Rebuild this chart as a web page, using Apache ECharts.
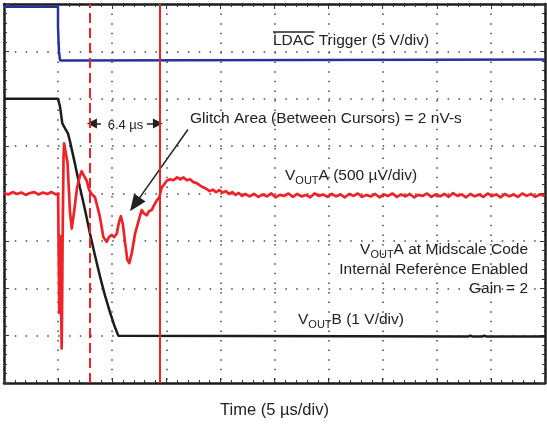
<!DOCTYPE html>
<html>
<head>
<meta charset="utf-8">
<script src="https://cdn.jsdelivr.net/npm/echarts@6/dist/echarts.min.js"></script>
<style>
  html, body { margin: 0; padding: 0; background: #fff; }
  #scope-chart { width: 547px; height: 424px; }
</style>
</head>
<body>
<div id="scope-chart"></div>
<script>
// time in us, amplitude in screen divisions (0 = bottom, 8 = top)
var ldacTrigger = [
  [0, 7.94], [4.99, 7.94], [4.99, 7.52], [5.08, 7.52], [5.08, 7.0], [5.18, 7.0],
  [5.18, 6.81], [6.28, 6.81], [6.28, 6.83], [50, 6.83]
];

var voutB = [
  [0, 6.0], [4.99, 6.0], [5.18, 5.83], [5.39, 5.48], [5.64, 5.375], [5.91, 5.27],
  [6.1, 5.1], [6.56, 4.625], [7.02, 4.125], [7.49, 3.65], [7.95, 3.15], [8.41, 2.69],
  [8.87, 2.25], [9.33, 1.85], [9.8, 1.49], [10.17, 1.23], [10.56, 1.0], [10.7, 0.98],
  [42.9, 0.98], [43.1, 1.0], [43.3, 0.98], [44.2, 0.98], [44.4, 1.0], [44.6, 0.98], [50, 0.98]
];

var voutA = [
  [0, 4.01], [0.4, 3.98], [0.8, 4.03], [1.2, 3.99], [1.6, 4.02], [2.0, 3.97], [2.4, 4.01],
  [2.8, 4.03], [3.2, 3.98], [3.6, 4.02], [4.0, 3.99], [4.4, 4.03], [4.8, 3.98], [5.0, 4.0],
  [5.08, 4.0], [5.11, 1.48], [5.15, 2.9], [5.2, 3.1], [5.27, 1.9], [5.33, 0.73], [5.38, 1.9],
  [5.41, 2.875], [5.5, 4.75], [5.55, 5.06], [5.64, 5.02], [5.73, 5.04], [5.87, 4.65],
  [6.1, 3.6], [6.26, 3.26], [6.47, 3.6], [6.75, 4.125], [7.02, 4.375], [7.18, 4.47],
  [7.39, 4.375], [7.64, 4.27], [7.86, 4.08], [8.1, 3.99], [8.41, 3.92], [8.69, 3.67],
  [8.87, 3.5], [9.18, 3.08], [9.49, 2.98], [9.7, 3.08], [9.95, 3.125], [10.17, 3.08],
  [10.42, 3.15], [10.63, 3.4], [10.81, 3.52], [11.0, 3.33], [11.18, 2.98], [11.4, 2.6],
  [11.58, 2.53], [11.8, 2.73], [12.11, 3.15], [12.41, 3.4], [12.73, 3.65], [12.94, 3.58],
  [13.19, 3.54], [13.4, 3.625], [13.65, 3.65], [13.86, 3.75], [14.11, 3.85], [14.35, 3.92],
  [14.57, 4.125], [14.79, 4.19], [15.04, 4.27], [15.34, 4.3], [15.65, 4.28], [15.99, 4.34],
  [16.3, 4.3], [16.6, 4.34], [16.9, 4.28], [17.2, 4.3], [17.5, 4.24], [17.8, 4.22],
  [18.1, 4.17], [18.4, 4.13], [18.7, 4.1], [19.0, 4.05], [19.3, 4.08], [19.6, 4.03],
  [19.9, 4.07], [20.2, 4.02], [20.5, 4.05], [20.8, 3.99], [21.1, 4.03], [21.4, 3.97],
  [21.7, 4.01], [22.0, 3.95], [22.3, 3.99], [22.7, 3.94],
  [23.1, 3.99], [23.5, 3.93], [23.9, 3.98], [24.3, 3.94], [24.7, 4.0], [25.1, 3.92],
  [25.5, 3.97], [25.9, 3.95], [26.3, 4.0], [26.7, 3.93], [27.1, 3.99], [27.5, 3.94],
  [27.9, 3.97], [28.3, 3.92], [28.7, 4.0], [29.1, 3.95], [29.5, 3.98], [29.9, 3.93],
  [30.3, 3.99], [30.7, 3.94], [31.1, 3.98], [31.5, 3.92], [31.9, 3.99], [32.3, 3.95],
  [32.7, 4.0], [33.1, 3.93], [33.5, 3.97], [33.9, 3.94], [34.3, 3.99], [34.7, 3.92],
  [35.1, 3.98], [35.5, 3.95], [35.9, 4.0], [36.3, 3.93], [36.7, 3.98], [37.1, 3.94],
  [37.5, 3.99], [37.9, 3.92], [38.3, 3.97], [38.7, 3.95], [39.1, 4.0], [39.5, 3.93],
  [39.9, 3.98], [40.3, 3.94], [40.7, 3.99], [41.1, 3.93], [41.5, 4.01], [41.9, 3.95],
  [42.3, 3.98], [42.7, 3.92], [43.1, 3.99], [43.5, 3.94], [43.9, 3.98], [44.3, 3.93],
  [44.7, 4.0], [45.1, 3.95], [45.5, 3.98], [45.9, 3.92], [46.3, 3.99], [46.7, 3.94],
  [47.1, 3.98], [47.5, 3.93], [47.9, 4.0], [48.3, 3.95], [48.7, 3.99], [49.1, 3.93],
  [49.5, 3.98], [50, 3.95]
];

// cursor positions (us) and annotation anchors
var cursors = [7.95, 14.42];
var spanArrowY = 5.48;
var spanArrowLeft = [8.13, 8.96];
var spanArrowRight = [13.2, 14.23];
var glitchArrow = [[17.0, 5.35], [12.1, 3.77]];

var FONT = "Liberation Sans, Arial, sans-serif";
var INK = "#222";

var frameAxis = function (position, max, interval, splitDash) {
  return {
    type: "value",
    position: position,
    min: 0,
    max: max,
    interval: interval,
    axisLine: { show: true, onZero: false, lineStyle: { color: "#1c1c1c", width: 2.5 } },
    axisTick: { show: true, inside: true, length: 5, lineStyle: { color: "#333", width: 1 } },
    minorTick: { show: true, splitNumber: 5, length: 3, lineStyle: { color: "#333", width: 1 } },
    axisLabel: { show: false },
    splitLine: {
      show: !!splitDash,
      lineStyle: { color: "#444", width: 1.5, type: splitDash || "solid" },
    },
  };
};

var label = function (x, y, text, opts) {
  opts = opts || {};
  return {
    type: "text",
    x: x,
    y: y,
    z: 20,
    style: {
      text: text,
      fill: INK,
      font: (opts.size || 15.5) + "px " + FONT,
      align: opts.align || "left",
      verticalAlign: "middle",
      rich: opts.rich,
    },
  };
};

var subRich = {
  v: { fontSize: 15.5, fontFamily: FONT, color: INK, lineHeight: 20, verticalAlign: "middle" },
  s: { fontSize: 11, fontFamily: FONT, color: INK, lineHeight: 20, verticalAlign: "bottom" },
};

var option = {
  animation: false,
  backgroundColor: "#fff",
  grid: { left: 4, top: 4, width: 541, height: 384 },
  xAxis: [
    Object.assign(frameAxis("bottom", 50, 5, [1.5, 8.1]), {
      name: "Time (5 µs/div)",
      nameLocation: "middle",
      nameGap: 19,
      nameTextStyle: { fontSize: 16.5, fontFamily: FONT, color: INK },
    }),
    frameAxis("top", 50, 5, null),
  ],
  yAxis: [
    frameAxis("left", 8, 1, [1.5, 9.32]),
    frameAxis("right", 8, 1, null),
  ],
  series: [
    {
      name: "LDAC Trigger",
      type: "line",
      data: ldacTrigger,
      showSymbol: false,
      lineStyle: { color: "#23339b", width: 2.5 },
      z: 3,
    },
    {
      name: "VOUTB",
      type: "line",
      data: voutB,
      showSymbol: false,
      lineStyle: { color: "#1c1c1c", width: 2.5 },
      z: 4,
      markLine: {
        silent: true,
        symbol: ["triangle", "none"],
        label: { show: false },
        lineStyle: { color: INK, width: 1.5, type: "solid" },
        data: [
          [
            { coord: [spanArrowLeft[0], spanArrowY], symbol: "triangle", symbolSize: [10, 10] },
            { coord: [spanArrowLeft[1], spanArrowY], symbol: "none" },
          ],
          [
            { coord: [spanArrowRight[0], spanArrowY], symbol: "none" },
            { coord: [spanArrowRight[1], spanArrowY], symbol: "triangle", symbolSize: [10, 10] },
          ],
          [
            { coord: glitchArrow[0], symbol: "none" },
            { coord: glitchArrow[1], symbol: "triangle", symbolSize: [14, 17] },
          ],
        ],
      },
    },
    {
      name: "VOUTA",
      type: "line",
      data: voutA,
      showSymbol: false,
      lineStyle: { color: "#ee2328", width: 2.7, join: "round" },
      z: 5,
      markLine: {
        silent: true,
        symbol: "none",
        label: { show: false },
        data: [
          { xAxis: cursors[0], lineStyle: { color: "#ee2328", width: 2, type: [10, 5] } },
          { xAxis: cursors[1], lineStyle: { color: "#ee2328", width: 2, type: "solid" } },
        ],
      },
    },
  ],
  graphic: [
    label(273, 41, "LDAC Trigger (5 V/div)"),
    { type: "line", z: 20, shape: { x1: 273, y1: 32, x2: 314.5, y2: 32 }, style: { stroke: INK, lineWidth: 1.5 } },
    label(125.5, 125, "6.4 µs", { size: 13, align: "center" }),
    label(190, 119, "Glitch Area (Between Cursors) = 2 nV-s"),
    label(285, 176, "{v|V}{s|OUT}{v|A (500 µV/div)}", { rich: subRich }),
    label(528, 250, "{v|V}{s|OUT}{v|A at Midscale Code}", { rich: subRich, align: "right" }),
    label(528, 270, "Internal Reference Enabled", { align: "right" }),
    label(528, 289, "Gain = 2", { align: "right" }),
    label(298, 320, "{v|V}{s|OUT}{v|B (1 V/div)}", { rich: subRich }),
  ],
};

var chart = echarts.init(document.getElementById("scope-chart"));
chart.setOption(option);
</script>
</body>
</html>
